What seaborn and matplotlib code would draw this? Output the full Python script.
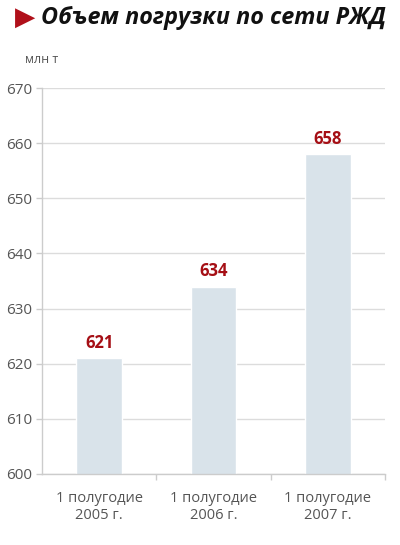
import matplotlib
matplotlib.use("Agg")
import matplotlib.pyplot as plt
import seaborn as sns
import pandas as pd

# data
categories = ["1 полугодие\n2005 г.", "1 полугодие\n2006 г.", "1 полугодие\n2007 г."]
values = [621, 634, 658]
y_ticks = [600, 610, 620, 630, 640, 650, 660, 670]

df = pd.DataFrame({"period": categories, "value": values})

sns.set_theme(style="white")
plt.rcParams["font.family"] = ["Open Sans", "DejaVu Sans"]

fig = plt.figure(figsize=(4, 5.45), dpi=100)
ax = fig.add_axes([0.105, 0.1303, 0.8575, 0.7082])

sns.barplot(data=df, x="period", y="value", color="#d9e3ea", width=0.4,
            saturation=1, ax=ax, zorder=2)

ax.set_ylim(600, 670)
ax.set_xlim(-0.5, 2.5)
ax.set_yticks(y_ticks)
ax.yaxis.grid(True, color="#dcdcdc", linewidth=1, zorder=0)
ax.set_axisbelow(True)
ax.set_xlabel("")
ax.set_ylabel("")

for s in ["top", "right"]:
    ax.spines[s].set_visible(False)
for s in ["left", "bottom"]:
    ax.spines[s].set_color("#cccccc")
    ax.spines[s].set_linewidth(1)

ax.tick_params(axis="y", colors="#cccccc", labelcolor="#555555", labelsize=11,
               length=4, width=1, left=True, pad=3)
ax.tick_params(axis="x", labelcolor="#555555", labelsize=10.5, bottom=False, pad=6)

# separators between categories on the bottom axis
ax.set_xticks([0.5, 1.5, 2.5], minor=True)
ax.tick_params(axis="x", which="minor", bottom=True, length=4, width=1, color="#cccccc")

for i, v in enumerate(values):
    ax.text(i, v + 1.2, str(v), ha="center", va="bottom", color="#a50f15",
            fontsize=12, fontweight="bold")

fig.text(0.038, 0.967, "\u25B6", color="#b0101a", fontsize=19, va="center", ha="left",
         family=["DejaVu Sans"])
fig.text(0.102, 0.967, "Объем погрузки по сети РЖД", fontsize=16.8, fontweight="bold",
         fontstyle="italic", va="center", ha="left", color="#111111")
fig.text(0.063, 0.89, "млн т", fontsize=9, color="#555555", va="center", ha="left")

fig.savefig("out.png", dpi=100)
